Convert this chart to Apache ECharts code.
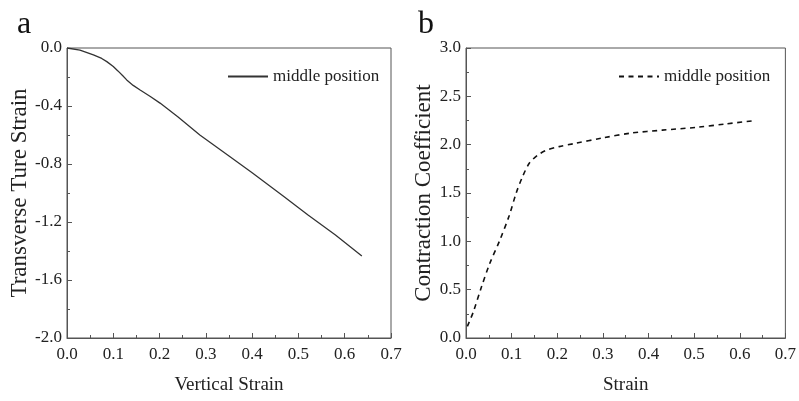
<!DOCTYPE html>
<html><head><meta charset="utf-8">
<script src="https://cdn.jsdelivr.net/npm/echarts@6/dist/echarts.min.js"></script>
<style>html,body{margin:0;padding:0;background:#fff}#c{width:799px;height:401px}</style>
</head><body><div id="c"></div>
<script>
// Panel a: vertical strain vs transverse true strain
const aStrain = [0, 0.028, 0.057, 0.075, 0.086, 0.100, 0.110, 0.120, 0.129, 0.143, 0.158, 0.180, 0.201, 0.240, 0.287, 0.35, 0.40, 0.467, 0.52, 0.58, 0.637];
const aTransverse = [0, -0.014, -0.048, -0.072, -0.094, -0.128, -0.158, -0.19, -0.22, -0.258, -0.29, -0.335, -0.38, -0.476, -0.60, -0.745, -0.86, -1.02, -1.15, -1.29, -1.434];
// Panel b: strain vs contraction coefficient
const bStrain = [0.003, 0.016, 0.034, 0.052, 0.074, 0.095, 0.110, 0.124, 0.139, 0.157, 0.175, 0.204, 0.236, 0.30, 0.362, 0.43, 0.507, 0.57, 0.626];
const bCoef = [0.12, 0.27, 0.53, 0.77, 1.01, 1.27, 1.50, 1.67, 1.81, 1.89, 1.94, 1.98, 2.01, 2.07, 2.12, 2.15, 2.18, 2.215, 2.245];
const legendNameA = 'middle position';
const legendNameB = 'middle position ';

const F = 'Liberation Serif';
const axisCol = '#555';
function xAxis(gi, name) {
  return {
    type: 'value', gridIndex: gi, min: 0, max: 0.7, interval: 0.1,
    name: name, nameLocation: 'middle', nameGap: 38,
    nameTextStyle: {fontFamily: F, fontSize: 19, color: '#222'},
    axisLine: {show: true, onZero: false, lineStyle: {color: axisCol, width: 1}},
    axisTick: {show: true, inside: true, length: 5, lineStyle: {color: axisCol}},
    minorTick: {show: true, splitNumber: 2, length: 3, lineStyle: {color: axisCol}},
    axisLabel: {fontFamily: F, fontSize: 17, color: '#222', margin: 8, formatter: v => v.toFixed(1)},
    splitLine: {show: false}
  };
}
function yAxis(gi, name, min, max, interval, gap) {
  return {
    type: 'value', gridIndex: gi, min: min, max: max, interval: interval,
    name: name, nameLocation: 'middle', nameGap: gap,
    nameTextStyle: {fontFamily: F, fontSize: 23, color: '#222'},
    axisLine: {show: true, onZero: false, lineStyle: {color: axisCol, width: 1}},
    axisTick: {show: true, inside: true, length: 5, lineStyle: {color: axisCol}},
    minorTick: {show: true, splitNumber: 2, length: 3, lineStyle: {color: axisCol}},
    axisLabel: {fontFamily: F, fontSize: 17, color: '#222', margin: 5, formatter: v => v.toFixed(1)},
    splitLine: {show: false}
  };
}
const chart = echarts.init(document.getElementById('c'), null, {renderer: 'canvas'});
chart.setOption({
  animation: false,
  backgroundColor: '#fff',
  title: [
    {text: 'a', left: 12, top: 4, textStyle: {fontFamily: F, fontSize: 32, fontWeight: 'normal', color: '#111'}},
    {text: 'b', left: 413, top: 4, textStyle: {fontFamily: F, fontSize: 32, fontWeight: 'normal', color: '#111'}}
  ],
  grid: [
    {left: 67, top: 48, width: 324, height: 290, show: true, borderColor: axisCol, borderWidth: 1, backgroundColor: 'transparent'},
    {left: 466, top: 48, width: 323, height: 290, show: true, borderColor: axisCol, borderWidth: 1, backgroundColor: 'transparent'}
  ],
  legend: [
    {id: 'la', left: 222, top: 63, itemWidth: 40, itemHeight: 12, itemGap: 4,
     data: [{name: legendNameA, itemStyle: {opacity: 0}}],
     textStyle: {fontFamily: F, fontSize: 17, color: '#222'}, selectedMode: false},
    {id: 'lb', left: 613, top: 63, itemWidth: 40, itemHeight: 12, itemGap: 4,
     data: [{name: legendNameB, itemStyle: {opacity: 0}}],
     textStyle: {fontFamily: F, fontSize: 17, color: '#222'}, selectedMode: false}
  ],
  xAxis: [xAxis(0, 'Vertical Strain'), xAxis(1, 'Strain')],
  yAxis: [yAxis(0, 'Transverse Ture Strain', -2.0, 0.0, 0.4, 35), yAxis(1, 'Contraction Coefficient', 0, 3.0, 0.5, 29)],
  series: [
    {name: legendNameA, type: 'line', xAxisIndex: 0, yAxisIndex: 0, showSymbol: false, symbol: 'none', smooth: false,
     lineStyle: {color: '#333', width: 1.3}, itemStyle: {color: '#333'},
     data: aStrain.map((x, i) => [x, aTransverse[i]])},
    {name: legendNameB, type: 'line', xAxisIndex: 1, yAxisIndex: 1, showSymbol: false, symbol: 'none', smooth: 0.3,
     lineStyle: {color: '#111', width: 1.6, type: [5, 4.5]}, itemStyle: {color: '#111'},
     data: bStrain.map((x, i) => [x, bCoef[i]])}
  ]
});
</script>
</body></html>
